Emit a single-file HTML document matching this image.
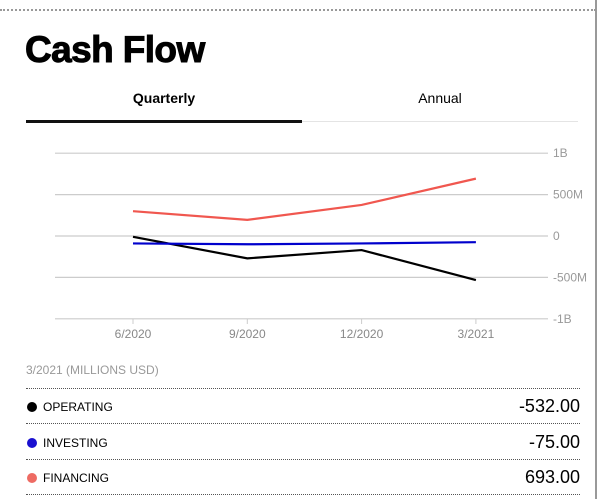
<!DOCTYPE html>
<html><head><meta charset="utf-8"><style>
body{margin:0;width:603px;height:499px;background:#fff;font-family:"Liberation Sans",sans-serif;position:relative;overflow:hidden}
.abs{position:absolute}
.dot{border-top:1px dotted #555}
</style></head><body>
<div class="abs" style="left:0;top:9px;width:596px;height:3px;border-top:2px dotted #999"></div>
<div class="abs" style="left:595px;top:0;width:2px;height:499px;background:#999"></div>
<div class="abs" style="left:25px;top:29px;font-size:37px;font-weight:bold;letter-spacing:-0.6px;-webkit-text-stroke:1px #000">Cash Flow</div>
<div class="abs" style="left:26px;top:90px;width:276px;text-align:center;font-size:14px;font-weight:bold">Quarterly</div>
<div class="abs" style="left:302px;top:90px;width:276px;text-align:center;font-size:14px">Annual</div>
<div class="abs" style="left:26px;top:120px;width:276px;height:3px;background:#111"></div>
<div class="abs" style="left:302px;top:121px;width:276px;height:1px;background:#e4e4e4"></div>
<svg class="abs" style="left:0;top:0" width="590" height="360">
<g id="grid"></g><g id="lines"></g>
</svg>
<div class="abs" style="left:26px;top:363px;font-size:12px;color:#999">3/2021 (MILLIONS USD)</div>
<div class="abs dot" style="left:26px;top:388px;width:554px"></div>
<div class="abs dot" style="left:26px;top:423px;width:554px"></div>
<div class="abs dot" style="left:26px;top:459px;width:554px"></div>
<div class="abs dot" style="left:26px;top:494px;width:554px"></div>
<div id="rows"></div>
<script>
const categories=["6/2020","9/2020","12/2020","3/2021"];
const operating=[-10,-270,-170,-532];
const investing=[-90,-100,-90,-75];
const financing=[300,195,375,693];
const yTicks=[1000,500,0,-500,-1000];
const yTickLabels=["1B","500M","0","-500M","-1B"];
const ns="http://www.w3.org/2000/svg";
const y=v=>236-v*0.0828;
const x=i=>133+i*114.3;
const grid=document.getElementById('grid');
yTicks.forEach((t,i)=>{
 const l=document.createElementNS(ns,'line');
 
 
 l.setAttribute('x1',55);l.setAttribute('x2',548);l.setAttribute('y1',y(t));l.setAttribute('y2',y(t));
 l.setAttribute('stroke','#ccc');l.setAttribute('stroke-width',1.2);grid.appendChild(l);
 const tx=document.createElementNS(ns,'text');
 
 
 tx.setAttribute('x',553);tx.setAttribute('y',y(t)+4);tx.setAttribute('font-size',12);tx.setAttribute('fill','#999');
 tx.textContent=yTickLabels[i];grid.appendChild(tx);
});
categories.forEach((c,i)=>{
 const l=document.createElementNS(ns,'line');
 
 
 l.setAttribute('x1',x(i));l.setAttribute('x2',x(i));l.setAttribute('y1',319);l.setAttribute('y2',324);
 l.setAttribute('stroke','#ccc');grid.appendChild(l);
 const tx=document.createElementNS(ns,'text');
 
 
 tx.setAttribute('x',x(i));tx.setAttribute('y',338);tx.setAttribute('font-size',12);tx.setAttribute('fill','#888');tx.setAttribute('text-anchor','middle');
 tx.textContent=c;grid.appendChild(tx);
});
const g=document.getElementById('lines');
[[financing,'#f0574f','financing-line'],[operating,'#000','operating-line'],[investing,'#0000cc','investing-line']].forEach(([d,col,n])=>{
 const p=document.createElementNS(ns,'polyline');
 
 
 p.setAttribute('points',d.map((v,i)=>x(i)+','+y(v)).join(' '));
 p.setAttribute('fill','none');p.setAttribute('stroke',col);p.setAttribute('stroke-width',2.2);g.appendChild(p);
});
const rows=document.getElementById('rows');
const last=categories.length-1;
[["OPERATING",operating,'#000'],["INVESTING",investing,'#1a10d0'],["FINANCING",financing,'#ee6b63']].forEach(([n,d,col],i)=>{
 const top=398+i*35.5;
 const r=document.createElement('div');
 
 
 r.className='abs';r.style.cssText=`left:26px;top:${top}px;width:554px;height:22px`;
 r.innerHTML=`<span style="position:absolute;left:1px;top:4px;width:10px;height:10px;border-radius:50%;background:${col}"></span><span style="position:absolute;left:17px;top:2px;font-size:12px">${n}</span><span style="position:absolute;right:0;top:-2px;font-size:18px">${d[last].toFixed(2)}</span>`;
 rows.appendChild(r);
});
</script>
</body></html>
